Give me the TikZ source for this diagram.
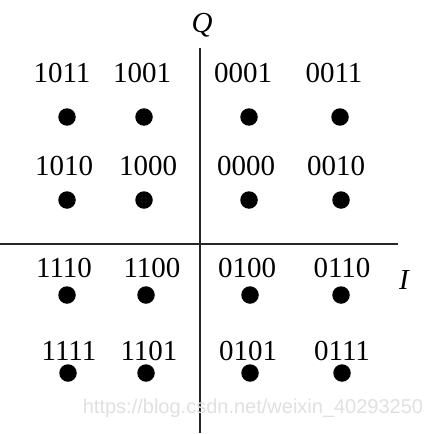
\documentclass[tikz,border=0pt]{standalone}
\usepackage{fontspec}
\setmainfont{Liberation Serif}
\newfontfamily\wmfont{Liberation Sans}
\begin{document}
\begin{tikzpicture}[x=1pt,y=-1pt,
  lbl/.style={anchor=base,inner sep=0pt,font=\fontsize{29}{29}\selectfont},
  pt/.style={circle,fill=black,inner sep=0pt,minimum size=17.5pt},
  axis/.style={line width=2pt,black!85}]
\useasboundingbox (0,0) rectangle (438,433);
% axes
\coordinate (qtop) at (200,48);
\coordinate (qbot) at (200,433);
\coordinate (ileft) at (0,244);
\coordinate (iright) at (398,244);
\draw[axis] (qtop) -- (qbot);
\draw[axis] (ileft) -- (iright);
\node[anchor=base,inner sep=0pt,font=\itshape\fontsize{29}{29}\selectfont] (Q) at (202,33) {Q};
\node[anchor=base,inner sep=0pt,font=\itshape\fontsize{29}{29}\selectfont] (I) at (404,289) {I};
% row 1
\node[lbl] (l1011) at (62,82) {1011};
\node[lbl] (l1001) at (142,82) {1001};
\node[lbl] (l0001) at (243,82) {0001};
\node[lbl] (l0011) at (334,82) {0011};
\node[pt] (p1011) at (67,117) {};
\node[pt] (p1001) at (144,117) {};
\node[pt] (p0001) at (249,117) {};
\node[pt] (p0011) at (340,117) {};
% row 2
\node[lbl] (l1010) at (64,175) {1010};
\node[lbl] (l1000) at (148,175) {1000};
\node[lbl] (l0000) at (246,175) {0000};
\node[lbl] (l0010) at (336,175) {0010};
\node[pt] (p1010) at (67,200) {};
\node[pt] (p1000) at (144,200) {};
\node[pt] (p0000) at (249,200) {};
\node[pt] (p0010) at (341,200) {};
% row 3
\node[lbl] (l1110) at (64,277) {1110};
\node[lbl] (l1100) at (152,277) {1100};
\node[lbl] (l0100) at (247,277) {0100};
\node[lbl] (l0110) at (342,277) {0110};
\node[pt] (p1110) at (67,295) {};
\node[pt] (p1100) at (146,295) {};
\node[pt] (p0100) at (250,295) {};
\node[pt] (p0110) at (341,295) {};
% row 4
\node[lbl] (l1111) at (69,360) {1111};
\node[lbl] (l1101) at (149,360) {1101};
\node[lbl] (l0101) at (248,360) {0101};
\node[lbl] (l0111) at (342,360) {0111};
\node[pt] (p1111) at (68,373) {};
\node[pt] (p1101) at (146,373) {};
\node[pt] (p0101) at (250,373) {};
\node[pt] (p0111) at (342,373) {};
% watermark
\node[inner sep=0pt,text=black!12,font=\wmfont\fontsize{20}{20}\selectfont] (wm) at (253,408) {https://blog.csdn.net/weixin\_40293250};
\end{tikzpicture}
\end{document}
